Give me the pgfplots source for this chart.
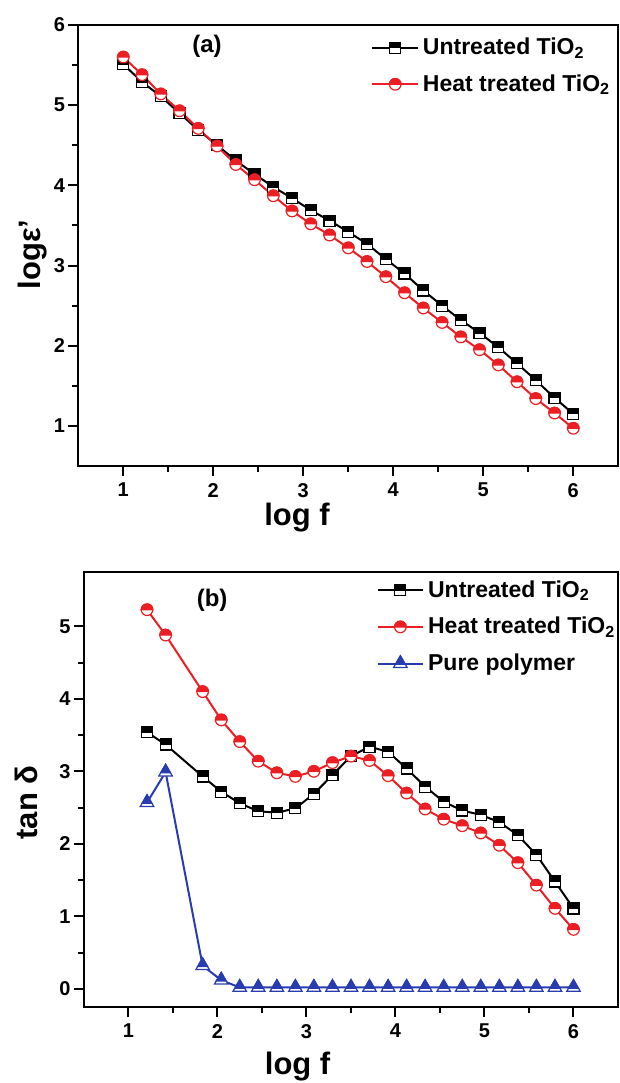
\documentclass[border=0pt]{standalone}
\usepackage{pgfplots}
\pgfplotsset{compat=1.18}
\usepackage{pgfplotstable}
\usepackage{fontspec}
\setmainfont{Liberation Sans}

\definecolor{tblue}{RGB}{40,60,175}
\definecolor{tred}{RGB}{235,30,35}

% marks with the upper half filled in the line colour, lower half white
\pgfdeclareplotmark{hsquare}{%
  \pgfpathrectangle{\pgfpoint{-\pgfplotmarksize}{-\pgfplotmarksize}}{\pgfpoint{2\pgfplotmarksize}{2\pgfplotmarksize}}%
  \pgfusepathqfillstroke
  \begin{pgfscope}
  \pgfpathrectangle{\pgfpoint{-\pgfplotmarksize}{0pt}}{\pgfpoint{2\pgfplotmarksize}{\pgfplotmarksize}}%
  \pgfsetfillcolor{black}%
  \pgfusepathqfillstroke
  \end{pgfscope}
}
\pgfdeclareplotmark{hcircle}{%
  \pgfpathcircle{\pgfpointorigin}{\pgfplotmarksize}%
  \pgfusepathqfillstroke
  \begin{pgfscope}
  \pgfpathmoveto{\pgfpoint{\pgfplotmarksize}{0pt}}%
  \pgfpatharc{0}{180}{\pgfplotmarksize}%
  \pgfpathclose
  \pgfsetfillcolor{tred}%
  \pgfusepathqfillstroke
  \end{pgfscope}
}
\pgfdeclareplotmark{htriangle}{%
  \pgfpathmoveto{\pgfpointpolar{90}{\pgfplotmarksize}}%
  \pgfpathlineto{\pgfpointpolar{210}{\pgfplotmarksize}}%
  \pgfpathlineto{\pgfpointpolar{330}{\pgfplotmarksize}}%
  \pgfpathclose
  \pgfusepathqfillstroke
  \begin{pgfscope}
  \pgfpathmoveto{\pgfpointpolar{90}{\pgfplotmarksize}}%
  \pgfpathlineto{\pgfpoint{-0.635\pgfplotmarksize}{-0.1\pgfplotmarksize}}%
  \pgfpathlineto{\pgfpoint{0.635\pgfplotmarksize}{-0.1\pgfplotmarksize}}%
  \pgfpathclose
  \pgfsetfillcolor{tblue}%
  \pgfusepathqfillstroke
  \end{pgfscope}
}

% (a) log eps' vs log f
\pgfplotstableread{
x     u     h
1.000 5.51  5.60
1.208 5.29  5.38
1.417 5.11  5.14
1.625 4.90  4.93
1.833 4.69  4.71
2.042 4.50  4.49
2.250 4.31  4.26
2.458 4.14  4.07
2.667 3.98  3.87
2.875 3.84  3.68
3.083 3.69  3.52
3.292 3.56  3.38
3.500 3.42  3.22
3.708 3.27  3.05
3.917 3.08  2.86
4.125 2.90  2.66
4.333 2.69  2.47
4.542 2.50  2.29
4.750 2.32  2.11
4.958 2.16  1.95
5.167 1.98  1.76
5.375 1.78  1.55
5.583 1.57  1.34
5.792 1.35  1.16
6.000 1.15  0.97
}\epsdata

% (b) tan delta vs log f
\pgfplotstableread{
x     u     h     p
1.208 3.54  5.23  2.57
1.417 3.37  4.88  2.99
1.833 2.93  4.10  0.32
2.042 2.72  3.71  0.12
2.250 2.56  3.41  0.02
2.458 2.45  3.14  0.02
2.667 2.43  2.98  0.02
2.875 2.49  2.93  0.02
3.083 2.69  3.00  0.02
3.292 2.95  3.12  0.02
3.500 3.21  3.21  0.02
3.708 3.34  3.15  0.02
3.917 3.27  2.94  0.02
4.125 3.04  2.70  0.02
4.333 2.79  2.48  0.02
4.542 2.58  2.34  0.02
4.750 2.46  2.25  0.02
4.958 2.40  2.15  0.02
5.167 2.30  1.98  0.02
5.375 2.12  1.74  0.02
5.583 1.85  1.43  0.02
5.792 1.48  1.11  0.02
6.000 1.11  0.82  0.02
}\tandata

\pgfplotsset{
  panel/.style={
    scale only axis,
    anchor=south west,
    xmin=0.5, xmax=6.5,
    xtick={1,...,6},
    minor x tick num=1, minor y tick num=1,
    tick pos=left, tick align=outside,
    major tick length=5pt, minor tick length=3pt,
    tick style={black, line width=1pt},
    axis line style={line width=1pt},
    ticklabel style={font=\fontsize{10}{12}\selectfont\bfseries},
    yticklabel style={inner xsep=1.5pt},
    /pgf/number format/assume math mode=true,
    label style={font=\fontsize{15.5}{18}\selectfont\bfseries},
    legend cell align=left,
    legend style={draw=none, fill=none, anchor=north west, row sep=4.5pt,
      font=\fontsize{11.5}{13}\selectfont\bfseries},
    legend image code/.code={\draw[mark repeat=2,mark phase=2]
      plot coordinates {(0cm,0cm) (0.4cm,0cm) (0.8cm,0cm)};},
  },
  untr/.style={black, line width=1pt, mark=hsquare, mark size=2.75pt,
    mark options={solid, fill=white, line width=0.6pt}},
  heat/.style={tred, line width=1pt, mark=hcircle, mark size=2.9pt,
    mark options={solid, fill=white, line width=0.6pt}},
  pure/.style={tblue, line width=1pt, mark=htriangle, mark size=3.9pt,
    mark options={solid, fill=white, line width=0.6pt}},
}

\begin{document}
\begin{tikzpicture}
\useasboundingbox (0,0) rectangle (310pt,541.5pt);

\begin{axis}[panel,
  at={(39.15pt,308.5pt)}, width=270pt, height=220.5pt,
  ymin=0.5, ymax=6, ytick={1,...,6},
  xlabel={log f}, ylabel={logε'},
  xlabel style={at={(axis description cs:0.405,-0.118)}, anchor=center},
  ylabel style={at={(axis description cs:-0.084,0.48)}, anchor=center},
  legend style={at={(0.531,0.99)}},
]
\addplot[untr] table[x=x, y=u] {\epsdata};
\addplot[heat] table[x=x, y=h] {\epsdata};
\node[font=\fontsize{12}{14}\selectfont\bfseries] at (axis cs:1.93,5.73) {(a)};
\legend{Untreated TiO\textsubscript{2}, Heat treated TiO\textsubscript{2}}
\end{axis}

\begin{axis}[panel,
  at={(42pt,38pt)}, width=267pt, height=217.5pt,
  ymin=-0.25, ymax=5.75, ytick={0,...,5},
  xlabel={log f}, ylabel={tan δ},
  xlabel style={at={(axis description cs:0.40,-0.136)}, anchor=center},
  ylabel style={at={(axis description cs:-0.107,0.47)}, anchor=center},
  legend style={at={(0.536,1.0)}},
]
\addplot[untr] table[x=x, y=u] {\tandata};
\addplot[heat] table[x=x, y=h] {\tandata};
\addplot[pure] table[x=x, y=p] {\tandata};
\node[font=\fontsize{12}{14}\selectfont\bfseries] at (axis cs:1.94,5.36) {(b)};
\legend{Untreated TiO\textsubscript{2}, Heat treated TiO\textsubscript{2}, Pure polymer}
\end{axis}
\end{tikzpicture}
\end{document}
